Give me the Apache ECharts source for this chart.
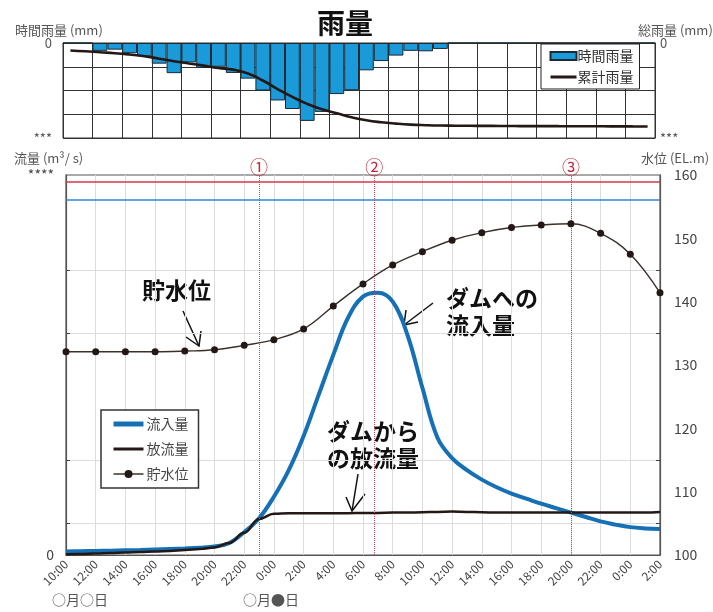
<!DOCTYPE html>
<html>
<head>
<meta charset="utf-8">
<script src="https://cdn.jsdelivr.net/npm/echarts@6/dist/echarts.min.js"></script>
<style>
  html, body { margin: 0; padding: 0; background: #fff; }
  #chart { width: 713px; height: 612px; }
</style>
</head>
<body>
<div id="chart"></div>
<script>
  // 横軸ラベル（2時間ごと）
  const timeLabels = ['10:00', '12:00', '14:00', '16:00', '18:00', '20:00', '22:00', '0:00', '2:00', '4:00', '6:00',
    '8:00', '10:00', '12:00', '14:00', '16:00', '18:00', '20:00', '22:00', '0:00', '2:00']

  // 雨量グラフ：1時間ごとの区分
  const rainHours = ['10:00', '11:00', '12:00', '13:00', '14:00', '15:00', '16:00', '17:00', '18:00', '19:00',
    '20:00', '21:00', '22:00', '23:00', '0:00', '1:00', '2:00', '3:00', '4:00', '5:00',
    '6:00', '7:00', '8:00', '9:00', '10:00', '11:00', '12:00', '13:00', '14:00', '15:00',
    '16:00', '17:00', '18:00', '19:00', '20:00', '21:00', '22:00', '23:00', '0:00', '1:00']
  const hourlyRain = [0, 0, 3.3, 2.8, 4.3, 5.6, 8.7, 12.7, 8.2, 10.5,
    10.0, 12.6, 15.0, 20.0, 24.2, 27.8, 32.8, 29.0, 21.5, 19.9,
    11.5, 7.6, 5.3, 3.3, 3.5, 2.5, 0, 0, 0, 0,
    0, 0, 0, 0, 0, 0, 0, 0, 0, 0]
  const cumRain = [15.7, 17.4, 19.5, 21.5, 24.3, 27.8, 33, 38.3, 43.1, 47.7,
    52.5, 56.1, 64.4, 79, 96.9, 113.6, 128.2, 139.7, 148.1, 156.5,
    162.8, 166.9, 169.7, 171.8, 173, 173.8, 174.1, 174.3, 174.5, 174.6,
    174.8, 175, 175, 175.1, 175.2, 175.3, 175.4, 175.5, 175.6, 175.7]

  // 流量（10:00からの経過時間）
  const flowHours = [0, 1, 2, 3, 4, 5, 6, 7, 8, 9, 10, 11, 12, 13, 14, 15, 16, 17, 18, 19, 20,
    21, 22, 23, 24, 25, 26, 27, 28, 29, 30, 31, 32, 33, 34, 35, 36, 37, 38, 39, 40]
  const inflow = [5.5, 6, 6.3, 6.8, 7.4, 7.9, 8.7, 9.5, 10.3, 11.4, 13.4,
    19, 36, 58, 92, 134, 188, 252, 316, 375, 408,
    414, 400, 347, 264, 186, 153, 134, 119, 107, 97,
    89, 81, 74, 67, 60, 53, 48, 44, 42, 41]
  const outflow = [1, 1.5, 2.4, 3, 4, 4.7, 5.5, 6.5, 8, 9.5, 12,
    19, 35, 57, 65, 66, 66, 66, 66, 66, 66.5,
    66.5, 67, 67, 67.5, 68, 68.5, 68, 67.5, 67, 67,
    67, 67, 67, 67, 67, 67, 67, 67, 67, 68]

  // 貯水位（2時間ごと）
  const levelHours = [0, 2, 4, 6, 8, 10, 12, 14, 16, 18, 20, 22, 24, 26, 28, 30, 32, 34, 36, 38, 40]
  const waterLevel = [132.1, 132.1, 132.1, 132.1, 132.2, 132.4, 133.1, 134.0, 135.7, 139.3, 142.8,
    145.8, 147.9, 149.7, 150.9, 151.7, 152.1, 152.3, 150.8, 147.5, 141.4]

  // 基準水位線とイベント時刻
  const redLevel = 158.9
  const blueLevel = 156.1
  const eventHours = [13, 20.75, 34]
  const eventMarks = ['①', '②', '③']

  const font = '"Noto Sans CJK JP", "Noto Sans", sans-serif'
  const chart = echarts.init(document.getElementById('chart'))

  const pair = (xs, ys) => xs.map((x, i) => [x, ys[i]])
  const noSymbol = { color: 'rgba(0,0,0,0)', borderWidth: 0 }

  const option = {
    animation: false,
    textStyle: { fontFamily: font },
    title: {
      text: '雨量',
      left: 312,
      top: 4,
      textStyle: { fontSize: 28, fontWeight: 'bold', color: '#111', fontFamily: font }
    },
    legend: [
      {
        data: [
          { name: '時間雨量', icon: 'rect' },
          { name: '累計雨量', itemStyle: noSymbol, lineStyle: { width: 3 } }
        ],
        orient: 'vertical',
        left: 541,
        top: 44,
        padding: [5, 6, 5, 8],
        itemGap: 7,
        itemWidth: 26,
        itemHeight: 8,
        borderColor: '#222',
        borderWidth: 1,
        backgroundColor: '#fff',
        textStyle: { fontSize: 14, color: '#333', padding: [0, 0, 0, -4] }
      },
      {
        data: [
          { name: '流入量', itemStyle: noSymbol, lineStyle: { width: 5 } },
          { name: '放流量', itemStyle: noSymbol, lineStyle: { width: 3 } },
          { name: '貯水位', lineStyle: { width: 1.5 } }
        ],
        orient: 'vertical',
        left: 101,
        top: 410,
        padding: [7, 10, 7, 10],
        itemGap: 11,
        itemWidth: 30,
        itemHeight: 10,
        borderColor: '#333',
        borderWidth: 1.5,
        backgroundColor: '#fff',
        textStyle: { fontSize: 14, color: '#444', padding: [0, 0, 0, -2] }
      }
    ],
    grid: [
      { left: 63, right: 58, top: 43, height: 95, show: true, borderColor: '#333', borderWidth: 1 },
      { left: 66, right: 53, top: 175, bottom: 57, show: true, borderColor: '#555', borderWidth: 1.2 }
    ],
    xAxis: [
      {
        type: 'category',
        gridIndex: 0,
        data: rainHours,
        boundaryGap: true,
        axisLine: { lineStyle: { color: '#333' } },
        axisTick: { show: false },
        axisLabel: { show: false },
        splitLine: { show: true, interval: 1, lineStyle: { color: '#333', width: 1 } }
      },
      {
        type: 'value',
        gridIndex: 1,
        min: 0,
        max: 40,
        interval: 2,
        axisLine: { lineStyle: { color: '#555', width: 1.2 } },
        axisTick: { show: false },
        axisLabel: {
          rotate: 45,
          fontSize: 12,
          color: '#444',
          margin: 7,
          formatter: v => timeLabels[v / 2]
        },
        splitLine: { show: true, lineStyle: { color: '#dcdcdc' } }
      }
    ],
    yAxis: [
      {
        // 時間雨量
        type: 'value',
        gridIndex: 0,
        inverse: true,
        min: 0,
        max: 40,
        interval: 10,
        axisLine: { show: true, lineStyle: { color: '#333' } },
        axisTick: { show: false },
        axisLabel: { fontSize: 13, color: '#555', margin: 11, formatter: v => v === 0 ? '0' : (v === 40 ? '***' : '') },
        splitLine: { show: true, lineStyle: { color: '#333', width: 1 } }
      },
      {
        // 累計雨量
        type: 'value',
        gridIndex: 0,
        inverse: true,
        position: 'right',
        min: 0,
        max: 200,
        interval: 50,
        axisLine: { show: true, lineStyle: { color: '#333' } },
        axisTick: { show: false },
        axisLabel: { fontSize: 13, color: '#555', margin: 5, formatter: v => v === 0 ? '0' : (v === 200 ? '***' : '') },
        splitLine: { show: false }
      },
      {
        // 流量
        type: 'value',
        gridIndex: 1,
        min: 0,
        max: 600,
        interval: 100,
        axisLine: { show: true, lineStyle: { color: '#555', width: 1.2 } },
        axisTick: { show: true, inside: true, length: 4, customValues: [50, 150, 350, 450], lineStyle: { color: '#444' } },
        axisLabel: { fontSize: 14, color: '#444', margin: 12, formatter: v => v === 0 ? '0' : (v === 600 ? '****' : '') },
        splitLine: { show: false }
      },
      {
        // 水位
        type: 'value',
        gridIndex: 1,
        position: 'right',
        min: 100,
        max: 160,
        interval: 10,
        axisLine: { show: true, lineStyle: { color: '#555', width: 1.2 } },
        axisTick: { show: true, inside: true, length: 4, customValues: [105, 115, 135, 145], lineStyle: { color: '#444' } },
        axisLabel: { fontSize: 14, color: '#444', margin: 14 },
        splitLine: { show: true, lineStyle: { color: '#dcdcdc' } }
      }
    ],
    series: [
      {
        name: '時間雨量',
        type: 'bar',
        xAxisIndex: 0,
        yAxisIndex: 0,
        data: hourlyRain,
        barCategoryGap: '0%',
        itemStyle: { color: '#1a9ad9', borderColor: '#1d2a33', borderWidth: 1 },
        z: 2
      },
      {
        name: '累計雨量',
        type: 'line',
        xAxisIndex: 0,
        yAxisIndex: 1,
        data: cumRain,
        smooth: true,
        showSymbol: false,
        symbol: 'none',
        lineStyle: { color: '#231815', width: 2.6 },
        itemStyle: { color: '#231815' },
        z: 3
      },
      {
        name: '流入量',
        type: 'line',
        xAxisIndex: 1,
        yAxisIndex: 2,
        data: pair(flowHours, inflow),
        smooth: 0.4,
        showSymbol: false,
        symbol: 'none',
        lineStyle: { color: '#1570b5', width: 4 },
        itemStyle: { color: '#1570b5' },
        z: 3
      },
      {
        name: '放流量',
        type: 'line',
        xAxisIndex: 1,
        yAxisIndex: 2,
        data: pair(flowHours, outflow),
        smooth: 0.4,
        smoothMonotone: 'x',
        showSymbol: false,
        symbol: 'none',
        lineStyle: { color: '#231815', width: 2.5 },
        itemStyle: { color: '#231815' },
        z: 4
      },
      {
        name: '貯水位',
        type: 'line',
        xAxisIndex: 1,
        yAxisIndex: 3,
        data: pair(levelHours, waterLevel),
        smooth: 0.4,
        symbol: 'circle',
        symbolSize: 7,
        lineStyle: { color: '#3a302c', width: 1.4 },
        itemStyle: { color: '#231815' },
        z: 5,
        markLine: {
          silent: true,
          symbol: 'none',
          animation: false,
          data: [
            { yAxis: redLevel, lineStyle: { color: '#d9364e', width: 1.5, type: 'solid' }, label: { show: false } },
            { yAxis: blueLevel, lineStyle: { color: '#2f86d6', width: 1.5, type: 'solid' }, label: { show: false } }
          ].concat(eventHours.map((h, i) => ({
            xAxis: h,
            lineStyle: { color: '#c8475a', width: 1, type: 'dotted' },
            label: { show: true, position: 'end', formatter: eventMarks[i], color: '#c0263b', fontSize: 18, distance: -1 }
          })))
        }
      }
    ],
    graphic: [
      // 雨量グラフの軸名
      { type: 'text', left: 15, top: 24, style: { text: '時間雨量 (mm)', font: '13px ' + font, fill: '#555' } },
      { type: 'text', left: 638, top: 24, style: { text: '総雨量 (mm)', font: '13px ' + font, fill: '#555' } },
      // 流量グラフの軸名
      { type: 'text', left: 14, top: 152, style: { text: '流量 (m³/ s)', font: '13px ' + font, fill: '#555' } },
      { type: 'text', left: 641, top: 152, style: { text: '水位 (EL.m)', font: '13px ' + font, fill: '#555' } },
      // 日付
      { type: 'text', left: 52, top: 593, style: { text: '○月○日', font: '14px ' + font, fill: '#555' } },
      { type: 'text', left: 243, top: 593, style: { text: '○月●日', font: '14px ' + font, fill: '#555' } },
      // 注記
      { type: 'text', left: 142, top: 279, style: { text: '貯水位', font: 'bold 23px ' + font, fill: '#111' } },
      { type: 'polyline', shape: { points: [[183, 311], [199, 346]] }, style: { stroke: '#111', lineWidth: 1.5, fill: null } },
      { type: 'polyline', shape: { points: [[186, 337], [199, 346], [201, 331]] }, style: { stroke: '#111', lineWidth: 1.5, fill: null } },

      { type: 'text', left: 446, top: 287, style: { text: 'ダムへの', font: 'bold 23px ' + font, fill: '#111' } },
      { type: 'text', left: 446, top: 314, style: { text: '流入量', font: 'bold 23px ' + font, fill: '#111' } },
      { type: 'polyline', shape: { points: [[433, 303], [404, 325]] }, style: { stroke: '#111', lineWidth: 1.5, fill: null } },
      { type: 'polyline', shape: { points: [[406, 310], [404, 325], [418, 322]] }, style: { stroke: '#111', lineWidth: 1.5, fill: null } },

      { type: 'text', left: 327, top: 420, style: { text: 'ダムから', font: 'bold 23px ' + font, fill: '#111' } },
      { type: 'text', left: 327, top: 447, style: { text: 'の放流量', font: 'bold 23px ' + font, fill: '#111' } },
      { type: 'polyline', shape: { points: [[358, 474], [352, 511]] }, style: { stroke: '#111', lineWidth: 1.5, fill: null } },
      { type: 'polyline', shape: { points: [[346, 497], [352, 511], [365, 494]] }, style: { stroke: '#111', lineWidth: 1.5, fill: null } }
    ]
  }

  chart.setOption(option)
</script>
</body>
</html>
